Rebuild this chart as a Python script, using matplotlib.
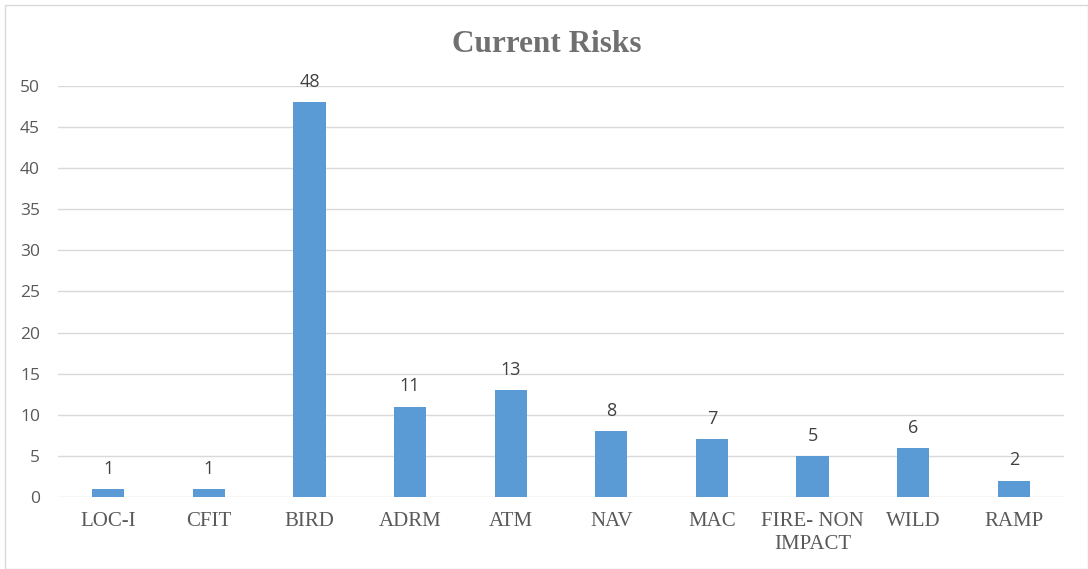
import matplotlib
matplotlib.use("Agg")
import matplotlib.pyplot as plt
from matplotlib.patches import Rectangle

categories = ["LOC-I", "CFIT", "BIRD", "ADRM", "ATM", "NAV", "MAC",
              "FIRE- NON\nIMPACT", "WILD", "RAMP"]
values = [1, 1, 48, 11, 13, 8, 7, 5, 6, 2]
y_ticks = [0, 5, 10, 15, 20, 25, 30, 35, 40, 45, 50]

bar_color = "#5B9BD5"
grid_color = "#D9D9D9"

fig = plt.figure(figsize=(10.88, 5.69), dpi=100)
ax = fig.add_axes([0.0533, 0.1265, 0.9247, 0.7224])

x = list(range(len(categories)))
ax.bar(x, values, width=0.32, color=bar_color, zorder=3)

for xi, v in zip(x, values):
    ax.annotate(str(v), (xi, v), xytext=(0, 8), textcoords="offset points",
                ha="center", va="bottom", fontsize=13, color="#404040",
                family="Open Sans")

ax.set_xlim(-0.5, len(categories) - 0.5)
ax.set_ylim(0, 50)
ax.set_yticks(y_ticks)
ax.set_yticklabels([str(t) for t in y_ticks], family="Open Sans",
                   fontsize=12.5, color="#595959")
ax.set_xticks(x)
ax.set_xticklabels(categories, family="Liberation Serif", fontsize=15,
                   color="#595959", linespacing=1.3)
ax.tick_params(axis="both", length=0)
ax.tick_params(axis="x", pad=11)
ax.tick_params(axis="y", pad=13)

ax.grid(axis="y", color=grid_color, linewidth=1, zorder=0)
for s in ax.spines.values():
    s.set_visible(False)

fig.text(0.5028, 0.922, "Current Risks", ha="center", va="center",
         family="Liberation Serif", fontweight="bold", fontsize=22.5,
         color="#707070")

fig.patches.append(Rectangle((5 / 1088, 0), 1 - 5 / 1088, 1 - 5 / 569,
                             transform=fig.transFigure, fill=False,
                             edgecolor="#D9D9D9", linewidth=1))

fig.savefig("out.png", dpi=100)
